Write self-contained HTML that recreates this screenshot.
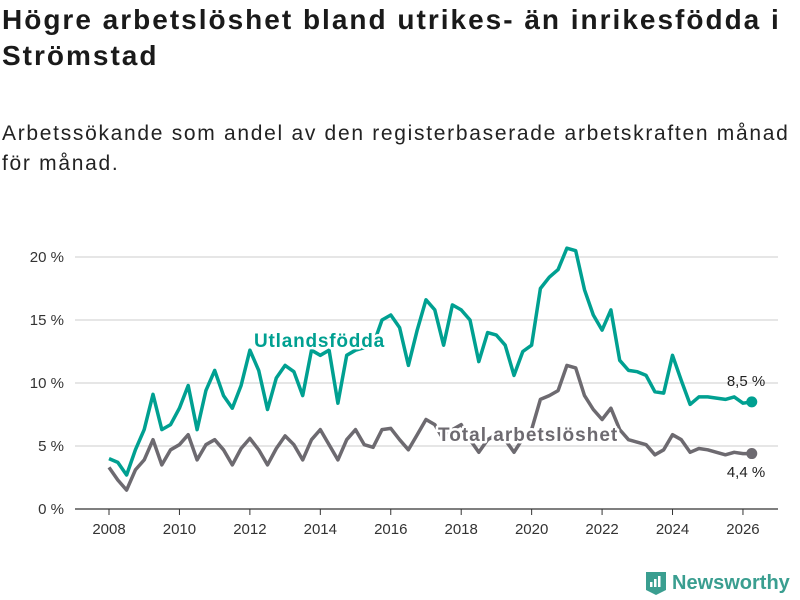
<!DOCTYPE html>
<html><head><meta charset="utf-8"><style>
body{margin:0;background:#fff;font-family:"Liberation Sans",sans-serif;}
#wrap{position:relative;width:800px;height:600px;overflow:hidden;}
h1{position:absolute;left:2px;top:2px;margin:0;font-size:28px;line-height:36px;font-weight:bold;color:#1a1a1a;width:800px;letter-spacing:2px;white-space:nowrap;}
p{position:absolute;left:2px;top:119px;margin:0;font-size:21px;line-height:30px;color:#222;width:800px;letter-spacing:1.7px;white-space:nowrap;}
</style></head><body>
<div id="wrap">
<h1>Högre arbetslöshet bland utrikes- än inrikesfödda i<br>Strömstad</h1>
<p>Arbetssökande som andel av den registerbaserade arbetskraften månad<br>för månad.</p>
<svg id="svg" width="800" height="600" style="position:absolute;left:0;top:0"></svg>
<div style="position:absolute;left:645px;top:571px;display:flex;align-items:center;">
<svg width="22" height="24"><path d="M1 1h20v18l-10 5-10-5z" fill="#3a9e90"/><rect x="5" y="11" width="2.5" height="5" fill="#fff"/><rect x="9" y="8" width="2.5" height="8" fill="#fff"/><rect x="13" y="5" width="2.5" height="11" fill="#fff"/></svg>
<span style="font-size:20px;color:#3a9e90;margin-left:5px;font-weight:bold;">Newsworthy</span></div>
</div>
<script>
const yTicks=[0,5,10,15,20];
const yTickLabels=["0 %","5 %","10 %","15 %","20 %"];
const xTicks=[2008,2010,2012,2014,2016,2018,2020,2022,2024,2026];
const startYear=2008, step=0.25;
const utland=[4.0,3.7,2.7,4.7,6.3,9.1,6.3,6.7,8.0,9.8,6.3,9.4,11.0,9.0,8.0,9.8,12.6,11.0,7.9,10.4,11.4,10.9,9.0,12.6,12.2,12.6,8.4,12.2,12.6,12.8,13.0,15.0,15.4,14.4,11.4,14.2,16.6,15.8,13.0,16.2,15.8,15.0,11.7,14.0,13.8,13.0,10.6,12.5,13.0,17.5,18.4,19.0,20.7,20.5,17.4,15.4,14.2,15.8,11.8,11.0,10.9,10.6,9.3,9.2,12.2,10.2,8.3,8.9,8.9,8.8,8.7,8.9,8.4,8.5];
const total=[3.3,2.3,1.5,3.1,3.9,5.5,3.5,4.7,5.1,5.9,3.9,5.1,5.5,4.7,3.5,4.8,5.6,4.7,3.5,4.8,5.8,5.1,3.9,5.5,6.3,5.1,3.9,5.5,6.3,5.1,4.9,6.3,6.4,5.5,4.7,5.9,7.1,6.7,5.5,6.3,6.7,5.5,4.5,5.5,5.9,5.5,4.5,5.6,6.3,8.7,9.0,9.4,11.4,11.2,9.0,7.9,7.1,8.0,6.3,5.5,5.3,5.1,4.3,4.7,5.9,5.5,4.5,4.8,4.7,4.5,4.3,4.5,4.4,4.4];
const NS="http://www.w3.org/2000/svg", svg=document.getElementById('svg');
const x=v=>109+(v-2008)*35.22, y=v=>509-v*12.6;
function mk(t,a,p){const e=document.createElementNS(NS,t);for(const k in a)e.setAttribute(k,a[k]);(p||svg).appendChild(e);return e;}
yTicks.forEach((t,i)=>{
 const l=mk('line',{x1:75,x2:778,y1:y(t),y2:y(t),stroke:t==0?'#333':'#ddd','stroke-width':t==0?1.2:1.5});
 
 
 const tx=mk('text',{x:64,y:y(t)+5,'text-anchor':'end','font-size':15,fill:'#333'});tx.textContent=yTickLabels[i];
 
 
});
xTicks.forEach(t=>{
 const l=mk('line',{x1:x(t),x2:x(t),y1:509,y2:515,stroke:'#333'});
 
 
 const tx=mk('text',{x:x(t),y:534,'text-anchor':'middle','font-size':15,fill:'#333'});tx.textContent=t;
 
 
});
function series(d,c,name){
 const pts=d.map((v,i)=>x(startYear+i*step).toFixed(1)+','+y(v).toFixed(1)).join(' ');
 const pl=mk('polyline',{points:pts,fill:'none',stroke:c,'stroke-width':3.5,'stroke-linejoin':'round'});
 
 
 const n=d.length-1;
 const dot=mk('circle',{cx:x(startYear+n*step),cy:y(d[n]),r:5.5,fill:c});
 
 
}
series(total,'#6d6a70','total');
series(utland,'#00a091','utland');
function lab(s,xx,yy,c,name,sz,bold,anchor,ls){
 const t=mk('text',{x:xx,y:yy,'font-size':sz,fill:c,'font-weight':bold?'bold':'normal','text-anchor':anchor||'start',stroke:'#fff','stroke-width':bold?5:0,'paint-order':'stroke','stroke-linejoin':'round','letter-spacing':ls||0});
 t.textContent=s;
 
 
}
lab('Utlandsfödda',254,347,'#00a091','utland-label',19,true,'start',0.8);
lab('Total arbetslöshet',438,441,'#6d6a70','total-label',19,true,'start',1);
lab('8,5 %',746,386,'#222','utland-end-value',15,false,'middle');
lab('4,4 %',746,477,'#222','total-end-value',15,false,'middle');
</script>
</body></html>
